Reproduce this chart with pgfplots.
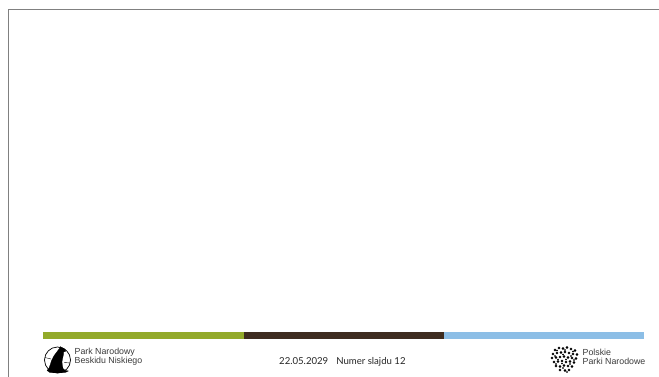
\documentclass[border=0pt]{standalone}
\usepackage{pgfplots}
\pgfplotsset{compat=1.18}
\usepackage{fontspec}
\setmainfont{Liberation Sans}
\newfontfamily\latofont{Lato}
\definecolor{pgreen}{HTML}{93AA2A}
\definecolor{pbrown}{HTML}{3E2C20}
\definecolor{pblue}{HTML}{8CBEE6}
\definecolor{frame}{HTML}{808080}
\definecolor{txt}{HTML}{3A3A3A}
\begin{document}
\begin{tikzpicture}
\begin{axis}[
  scale only axis, width=659pt, height=377pt,
  xmin=0, xmax=659, ymin=0, ymax=377, y dir=reverse,
  axis lines=none, clip=false,
]
% frame lines
\addplot[frame, line width=1.2pt] coordinates {(8.5,377) (8.5,9.5) (659,9.5)};
% colour bars
\addplot[fill=pgreen, draw=none] coordinates {(43,332) (243.5,332) (243.5,338.5) (43,338.5)} -- cycle;
\addplot[fill=pbrown, draw=none] coordinates {(243.5,332) (444,332) (444,338.5) (243.5,338.5)} -- cycle;
\addplot[fill=pblue, draw=none] coordinates {(444,332) (644,332) (644,338.5) (444,338.5)} -- cycle;
% left logo: circle
\draw[black, line width=0.7pt] (axis cs:57.5,360) circle[radius=13pt];
% horizon lines inside circle
\addplot[black, line width=0.4pt] coordinates {(44.8,357.5) (51,359)};
\addplot[black, line width=0.4pt] coordinates {(64,362.5) (70.3,363)};
% wolf silhouette
\addplot[fill=black, draw=black, line width=0.2pt] coordinates {
 (65.5,349.5) (63.5,348.2) (61.5,347.5) (60.5,346.5) (59.8,348) (58.3,350)
 (56,353) (53.5,356.5) (51.5,360.5) (50.3,364.5) (49,368) (47,370.5)
 (50,372.6) (57.5,373) (65,372.6) (68.5,371) (65,370.3) (63,368.5)
 (62.3,365) (62,361.5) (62.8,357.5) (63.5,354.5) (63.6,352) (65.8,351.2)};
% left texts
\node[anchor=west, text=txt, font=\fontsize{8.8}{9}\selectfont, inner sep=0pt] at (axis cs:74.5,352.5) {Park Narodowy};
\node[anchor=west, text=txt, font=\fontsize{8.8}{9}\selectfont, inner sep=0pt] at (axis cs:74.5,361.5) {Beskidu Niskiego};
% center text
\node[anchor=west, text=black!85, font=\latofont\fontsize{9.6}{11}\selectfont, inner sep=0pt] at (axis cs:279,361.5) {22.05.2029\hspace{8pt}Numer slajdu 12};
% right logo dots
\addplot[only marks, mark=*, mark size=1.1pt, black] coordinates {
 (555,350) (559,348) (563,348.5) (567,347.5) (571,349) (575,350.5)
 (553,354) (557,353) (561,352.5) (565,352) (569,353) (573,354) (577,354.5)
 (552,358) (556,357.5) (560,357) (564,356.5) (568,357.5) (572,358) (576,358.5)
 (554,362) (558,361.5) (562,361) (566,362) (570,361.5) (574,362.5)
 (556,366) (560,366.5) (564,365.5) (568,366) (572,366.5)
 (560,370) (565,370.5) (569,370)};
\addplot[only marks, mark=*, mark size=0.6pt, black] coordinates {
 (557,350.5) (565,350) (573,351.5) (555,356) (563,354.5) (571,356) (558,359.5)
 (566,359.5) (574,360) (556,364) (562,363.5) (570,364) (563,368) (567,372)};
% right texts
\node[anchor=west, text=txt, font=\fontsize{8.8}{9}\selectfont, inner sep=0pt] at (axis cs:582.5,352.5) {Polskie};
\node[anchor=west, text=txt, font=\fontsize{8.8}{9}\selectfont, inner sep=0pt] at (axis cs:582.5,361.5) {Parki Narodowe};
\end{axis}
\pgfresetboundingbox
\path (current axis.south west) rectangle (current axis.north east);
\end{tikzpicture}
\end{document}
